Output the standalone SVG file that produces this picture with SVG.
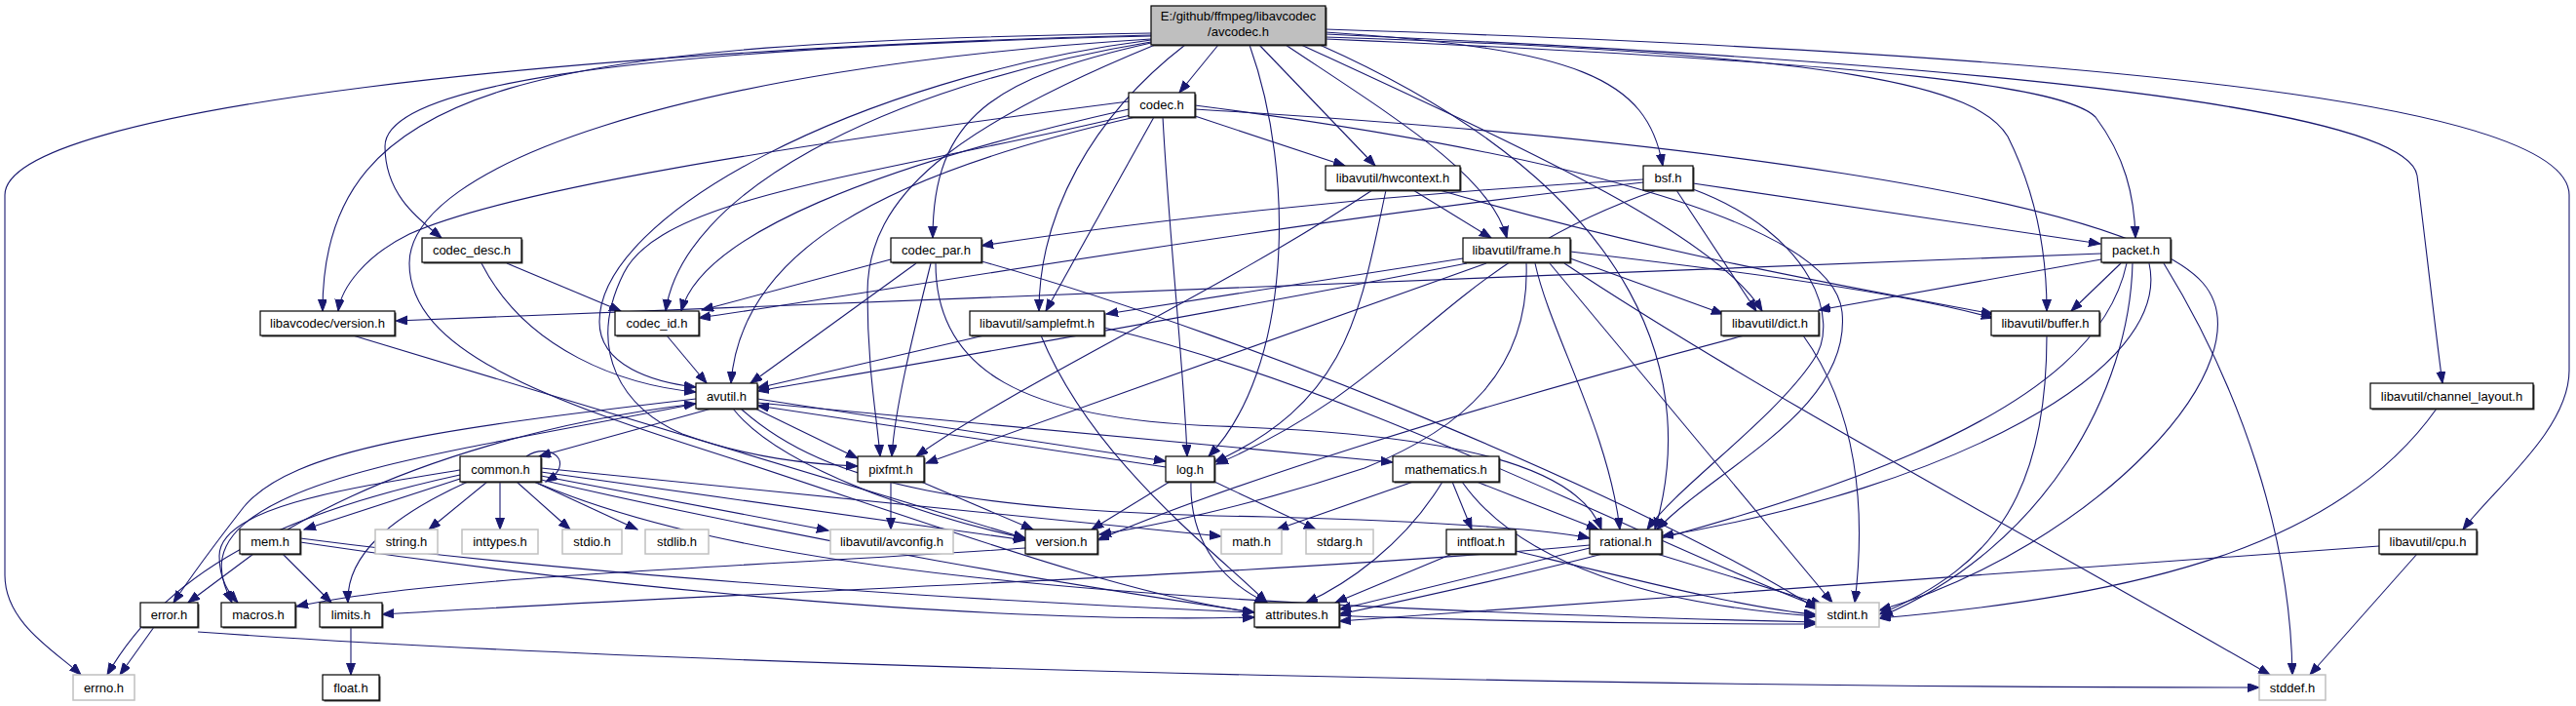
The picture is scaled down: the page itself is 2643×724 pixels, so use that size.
<svg xmlns="http://www.w3.org/2000/svg" width="2643" height="724" viewBox="0 0 2643 724">
<style>
.bg{fill:#ffffff}
.n rect.b{fill:#ffffff;stroke:#000000;stroke-width:1.2}
.n rect.s{fill:#404040}
.g rect.b{fill:#ffffff;stroke:#c0c0c0;stroke-width:1.5}
.t rect.b{fill:#bfbfbf;stroke:#000000;stroke-width:1.2}
.t rect.s{fill:#404040}
text{font-family:"Liberation Sans",Arial,sans-serif;font-size:13px;fill:#000000;text-anchor:middle}
#edges path{fill:none;stroke:#191970;stroke-width:1.1;marker-end:url(#arr)}
</style>
<defs>
<marker id="arr" markerUnits="userSpaceOnUse" markerWidth="13" markerHeight="10" refX="12" refY="4.5" orient="auto"><path d="M0,0 L12,4.5 L0,9 z" fill="#191970" stroke="#191970" stroke-width="1"/></marker>
</defs>
<rect class="bg" x="0" y="0" width="2643" height="724"/>
<g id="edges">
<!-- avcodec.h -->
<path d="M1181,36 C600,50 5,110 5,200 L5,590 C5,640 60,670 83,692"/>
<path d="M1181,34 C560,44 330,80 331,319"/>
<path d="M1181,37 C620,50 395,90 395,150 C395,200 430,225 453,244"/>
<path d="M1181,40 C700,70 420,170 420,270 C420,360 560,410 750,470 C950,535 1150,610 1287,628"/>
<path d="M1181,41 C880,80 615,220 615,330 C615,375 670,392 714,397"/>
<path d="M1181,43 C900,90 700,200 683,319"/>
<path d="M1181,44 C1020,80 957,120 957,244"/>
<path d="M1185,46 C980,130 890,200 890,300 C890,380 900,430 903,468"/>
<path d="M1216,46 C1120,120 1066,220 1066,319"/>
<path d="M1250,46 L1210,95"/>
<path d="M1282,46 C1330,180 1325,380 1240,468"/>
<path d="M1292,46 L1411,170"/>
<path d="M1319,46 C1430,120 1530,180 1546,244"/>
<path d="M1335,46 C1560,150 1760,240 1808,319"/>
<path d="M1354,46 C1700,200 1740,400 1698,543"/>
<path d="M1360,33 C1620,50 1690,80 1706,170"/>
<path d="M1360,38 C1900,55 2030,90 2060,140 C2090,200 2100,260 2100,319"/>
<path d="M1360,40 C1950,65 2120,90 2150,120 C2180,160 2190,200 2191,244"/>
<path d="M1360,35 C2150,70 2470,120 2480,180 C2490,260 2500,350 2506,393"/>
<path d="M1360,30 C2300,60 2636,120 2636,200 L2636,380 C2636,440 2560,500 2527,543"/>
<!-- codec.h -->
<path d="M1226,119 L1380,170"/>
<path d="M1184,120 L1073,319"/>
<path d="M1193,120 C1200,250 1215,380 1218,468"/>
<path d="M1160,118 C900,180 680,200 640,280 C600,360 640,420 700,445 C770,470 830,476 880,478"/>
<path d="M1165,120 C900,180 760,260 750,393"/>
<path d="M1158,112 C900,170 720,240 699,319"/>
<path d="M1158,104 C800,150 520,195 420,240 C375,262 350,295 347,319"/>
<path d="M1226,108 C1550,150 1880,220 1890,320 C1900,420 1760,480 1700,543"/>
<path d="M1226,112 C1700,140 2180,200 2260,290 C2330,370 2150,560 1928,626"/>
<!-- hwcontext.h -->
<path d="M1450,195 L1530,244"/>
<path d="M1408,195 C1250,300 1050,390 940,468"/>
<path d="M1422,195 C1395,320 1385,410 1246,474"/>
<path d="M1477,195 C1700,260 1900,295 2045,322"/>
<!-- bsf.h -->
<path d="M1686,184 C1400,200 1150,230 1007,252"/>
<path d="M1686,187 C1300,230 900,300 717,326"/>
<path d="M1700,195 C1480,270 1450,390 1248,476"/>
<path d="M1720,195 L1802,319"/>
<path d="M1737,194 C1860,240 1890,330 1860,370 C1820,430 1720,500 1690,543"/>
<path d="M1737,188 L2155,250"/>
<!-- codec_desc.h -->
<path d="M520,270 L637,319"/>
<path d="M494,270 C540,360 640,395 714,402"/>
<!-- codec_par.h -->
<path d="M914,266 L720,318"/>
<path d="M940,270 L770,393"/>
<path d="M955,270 C935,350 918,420 915,468"/>
<path d="M960,270 C960,380 1050,430 1250,437 C1500,445 1620,480 1643,543"/>
<path d="M1007,268 C1300,350 1700,520 1865,625"/>
<!-- frame.h -->
<path d="M1501,265 L1135,322"/>
<path d="M1505,270 C1200,330 900,380 777,401"/>
<path d="M1525,270 L950,475"/>
<path d="M1566,270 C1570,380 1500,440 1400,480 C1280,520 1180,540 1128,548"/>
<path d="M1575,270 C1590,340 1650,440 1662,543"/>
<path d="M1611,265 L1768,322"/>
<path d="M1611,258 C1800,280 1950,300 2045,326"/>
<path d="M1590,270 L1880,618"/>
<path d="M1605,270 C1800,400 2100,560 2329,692"/>
<!-- packet.h -->
<path d="M2156,260 L406,329"/>
<path d="M2156,266 L1866,318"/>
<path d="M2176,270 L2125,319"/>
<path d="M2188,270 C2185,400 2100,560 1930,632"/>
<path d="M2182,270 C2150,420 1900,520 1374,630"/>
<path d="M2205,270 C2230,380 2000,500 1705,550"/>
<path d="M2220,270 C2300,400 2350,550 2352,692"/>
<!-- libavcodec/version.h -->
<path d="M362,344 L1052,552"/>
<!-- codec_id.h -->
<path d="M684,344 L725,393"/>
<!-- samplefmt.h -->
<path d="M1010,344 L777,398"/>
<path d="M1068,344 C1120,470 1240,560 1300,618"/>
<path d="M1133,336 C1400,400 1700,560 1865,622"/>
<!-- dict.h -->
<path d="M1790,344 C1500,420 1250,500 1126,554"/>
<path d="M1850,344 C1905,420 1915,520 1903,618"/>
<!-- buffer.h -->
<path d="M2100,344 C2100,500 2050,580 1928,630"/>
<!-- avutil.h -->
<path d="M730,419 L553,468"/>
<path d="M714,409 C450,440 300,460 250,520 C215,565 190,600 178,618"/>
<path d="M714,414 C480,460 330,480 260,530 C210,565 230,600 238,618"/>
<path d="M752,419 C800,480 950,530 1052,552"/>
<path d="M777,413 L1429,474"/>
<path d="M777,409 L1196,473"/>
<path d="M775,419 L880,470"/>
<path d="M760,419 C850,500 1000,525 1300,530 C1500,535 1600,545 1631,552"/>
<!-- channel_layout.h -->
<path d="M2500,419 C2400,560 2200,610 1928,634"/>
<!-- common.h -->
<path d="M540,468 C565,452 592,475 560,494"/>
<path d="M472,491 L312,543"/>
<path d="M500,494 L440,543"/>
<path d="M513,494 L513,543"/>
<path d="M530,494 L585,543"/>
<path d="M548,494 L654,543"/>
<path d="M555,488 L850,544"/>
<path d="M472,487 C320,520 180,570 110,692"/>
<path d="M472,482 C360,500 225,520 225,570 C225,595 235,608 244,618"/>
<path d="M480,494 C400,530 355,570 357,618"/>
<path d="M555,480 L1253,550"/>
<path d="M555,492 C850,560 1100,600 1287,628"/>
<path d="M555,484 L1052,554"/>
<path d="M548,494 C750,580 1100,620 1863,638"/>
<!-- pixfmt.h -->
<path d="M914,494 L914,543"/>
<path d="M945,494 L1060,543"/>
<!-- log.h -->
<path d="M1200,494 L1120,543"/>
<path d="M1246,494 L1350,543"/>
<path d="M1222,494 C1220,560 1260,600 1300,618"/>
<path d="M1196,479 L777,416"/>
<!-- mathematics.h -->
<path d="M1450,494 L1310,543"/>
<path d="M1480,494 C1440,560 1380,600 1340,618"/>
<path d="M1490,494 L1510,543"/>
<path d="M1515,494 L1640,543"/>
<path d="M1500,494 C1560,580 1700,620 1863,632"/>
<!-- mem.h -->
<path d="M260,568 L193,618"/>
<path d="M290,568 L340,618"/>
<path d="M308,552 C600,590 1200,640 1863,640"/>
<path d="M308,556 C600,600 1000,640 1287,633"/>
<path d="M295,543 C420,470 580,430 714,414"/>
<!-- version.h -->
<path d="M1052,562 C800,580 450,590 304,622"/>
<!-- intfloat.h -->
<path d="M1490,568 L1370,618"/>
<path d="M1555,565 C1700,600 1800,625 1863,630"/>
<!-- rational.h -->
<path d="M1631,562 L1374,625"/>
<path d="M1631,559 C1300,590 800,605 392,630"/>
<path d="M1700,568 L1870,620"/>
<!-- cpu.h -->
<path d="M2480,568 L2370,692"/>
<path d="M2441,560 L1374,637"/>
<!-- error.h -->
<path d="M158,643 L123,692"/>
<path d="M203,648 C800,690 1800,705 2318,705"/>
<!-- limits.h -->
<path d="M360,643 L360,692"/>
</g>

<g id="node-avcodec" class="t"><rect class="s" x="1182.5" y="7.5" width="179" height="40"/><rect class="b" x="1181" y="6" width="179" height="40"/><text x="1270.5" y="21">E:/github/ffmpeg/libavcodec</text><text x="1270.5" y="37">/avcodec.h</text></g>
<g id="node-codec" class="n"><rect class="s" x="1159.5" y="96.5" width="68" height="25"/><rect class="b" x="1158" y="95" width="68" height="25"/><text x="1192" y="112">codec.h</text></g>
<g id="node-hwcontext" class="n"><rect class="s" x="1361.5" y="171.5" width="138" height="25"/><rect class="b" x="1360" y="170" width="138" height="25"/><text x="1429" y="187">libavutil/hwcontext.h</text></g>
<g id="node-bsf" class="n"><rect class="s" x="1687.5" y="171.5" width="51" height="25"/><rect class="b" x="1686" y="170" width="51" height="25"/><text x="1711.5" y="187">bsf.h</text></g>
<g id="node-codec_desc" class="n"><rect class="s" x="434.5" y="245.5" width="102" height="25"/><rect class="b" x="433" y="244" width="102" height="25"/><text x="484" y="261">codec_desc.h</text></g>
<g id="node-codec_par" class="n"><rect class="s" x="915.5" y="245.5" width="93" height="25"/><rect class="b" x="914" y="244" width="93" height="25"/><text x="960.5" y="261">codec_par.h</text></g>
<g id="node-frame" class="n"><rect class="s" x="1502.5" y="245.5" width="110" height="25"/><rect class="b" x="1501" y="244" width="110" height="25"/><text x="1556" y="261">libavutil/frame.h</text></g>
<g id="node-packet" class="n"><rect class="s" x="2157.5" y="245.5" width="71" height="25"/><rect class="b" x="2156" y="244" width="71" height="25"/><text x="2191.5" y="261">packet.h</text></g>
<g id="node-lavc_version" class="n"><rect class="s" x="268.5" y="320.5" width="138" height="25"/><rect class="b" x="267" y="319" width="138" height="25"/><text x="336" y="336">libavcodec/version.h</text></g>
<g id="node-codec_id" class="n"><rect class="s" x="632.5" y="320.5" width="86" height="25"/><rect class="b" x="631" y="319" width="86" height="25"/><text x="674" y="336">codec_id.h</text></g>
<g id="node-samplefmt" class="n"><rect class="s" x="996.5" y="320.5" width="138" height="25"/><rect class="b" x="995" y="319" width="138" height="25"/><text x="1064" y="336">libavutil/samplefmt.h</text></g>
<g id="node-dict" class="n"><rect class="s" x="1767.5" y="320.5" width="100" height="25"/><rect class="b" x="1766" y="319" width="100" height="25"/><text x="1816" y="336">libavutil/dict.h</text></g>
<g id="node-buffer" class="n"><rect class="s" x="2044.5" y="320.5" width="111" height="25"/><rect class="b" x="2043" y="319" width="111" height="25"/><text x="2098.5" y="336">libavutil/buffer.h</text></g>
<g id="node-avutil" class="n"><rect class="s" x="715.5" y="394.5" width="63" height="26"/><rect class="b" x="714" y="393" width="63" height="26"/><text x="745.5" y="410.5">avutil.h</text></g>
<g id="node-channel_layout" class="n"><rect class="s" x="2433.5" y="394.5" width="167" height="26"/><rect class="b" x="2432" y="393" width="167" height="26"/><text x="2515.5" y="410.5">libavutil/channel_layout.h</text></g>
<g id="node-common" class="n"><rect class="s" x="473.5" y="469.5" width="83" height="26"/><rect class="b" x="472" y="468" width="83" height="26"/><text x="513.5" y="485.5">common.h</text></g>
<g id="node-pixfmt" class="n"><rect class="s" x="881.5" y="469.5" width="68" height="26"/><rect class="b" x="880" y="468" width="68" height="26"/><text x="914" y="485.5">pixfmt.h</text></g>
<g id="node-log" class="n"><rect class="s" x="1197.5" y="469.5" width="50" height="26"/><rect class="b" x="1196" y="468" width="50" height="26"/><text x="1221" y="485.5">log.h</text></g>
<g id="node-mathematics" class="n"><rect class="s" x="1430.5" y="469.5" width="109" height="26"/><rect class="b" x="1429" y="468" width="109" height="26"/><text x="1483.5" y="485.5">mathematics.h</text></g>
<g id="node-mem" class="n"><rect class="s" x="247.5" y="544.5" width="62" height="25"/><rect class="b" x="246" y="543" width="62" height="25"/><text x="277" y="560">mem.h</text></g>
<g id="node-string" class="g"><rect class="b" x="385" y="543" width="64" height="25"/><text x="417" y="560">string.h</text></g>
<g id="node-inttypes" class="g"><rect class="b" x="474" y="543" width="78" height="25"/><text x="513" y="560">inttypes.h</text></g>
<g id="node-stdio" class="g"><rect class="b" x="577" y="543" width="61" height="25"/><text x="607.5" y="560">stdio.h</text></g>
<g id="node-stdlib" class="g"><rect class="b" x="662" y="543" width="65" height="25"/><text x="694.5" y="560">stdlib.h</text></g>
<g id="node-avconfig" class="g"><rect class="b" x="852" y="543" width="126" height="25"/><text x="915" y="560">libavutil/avconfig.h</text></g>
<g id="node-version" class="n"><rect class="s" x="1053.5" y="544.5" width="74" height="25"/><rect class="b" x="1052" y="543" width="74" height="25"/><text x="1089" y="560">version.h</text></g>
<g id="node-math" class="g"><rect class="b" x="1253" y="543" width="62" height="25"/><text x="1284" y="560">math.h</text></g>
<g id="node-stdarg" class="g"><rect class="b" x="1340" y="543" width="69" height="25"/><text x="1374.5" y="560">stdarg.h</text></g>
<g id="node-intfloat" class="n"><rect class="s" x="1485.5" y="544.5" width="71" height="25"/><rect class="b" x="1484" y="543" width="71" height="25"/><text x="1519.5" y="560">intfloat.h</text></g>
<g id="node-rational" class="n"><rect class="s" x="1632.5" y="544.5" width="74" height="25"/><rect class="b" x="1631" y="543" width="74" height="25"/><text x="1668" y="560">rational.h</text></g>
<g id="node-cpu" class="n"><rect class="s" x="2442.5" y="544.5" width="100" height="25"/><rect class="b" x="2441" y="543" width="100" height="25"/><text x="2491" y="560">libavutil/cpu.h</text></g>
<g id="node-error" class="n"><rect class="s" x="145.5" y="619.5" width="59" height="25"/><rect class="b" x="144" y="618" width="59" height="25"/><text x="173.5" y="635">error.h</text></g>
<g id="node-macros" class="n"><rect class="s" x="228.5" y="619.5" width="76" height="25"/><rect class="b" x="227" y="618" width="76" height="25"/><text x="265" y="635">macros.h</text></g>
<g id="node-limits" class="n"><rect class="s" x="329.5" y="619.5" width="64" height="25"/><rect class="b" x="328" y="618" width="64" height="25"/><text x="360" y="635">limits.h</text></g>
<g id="node-attributes" class="n"><rect class="s" x="1288.5" y="619.5" width="87" height="25"/><rect class="b" x="1287" y="618" width="87" height="25"/><text x="1330.5" y="635">attributes.h</text></g>
<g id="node-stdint" class="g"><rect class="b" x="1863" y="618" width="65" height="25"/><text x="1895.5" y="635">stdint.h</text></g>
<g id="node-errno" class="g"><rect class="b" x="75" y="692" width="63" height="26"/><text x="106.5" y="709.5">errno.h</text></g>
<g id="node-float" class="n"><rect class="s" x="332.5" y="693.5" width="58" height="26"/><rect class="b" x="331" y="692" width="58" height="26"/><text x="360" y="709.5">float.h</text></g>
<g id="node-stddef" class="g"><rect class="b" x="2318" y="692" width="68" height="26"/><text x="2352" y="709.5">stddef.h</text></g>
</svg>
